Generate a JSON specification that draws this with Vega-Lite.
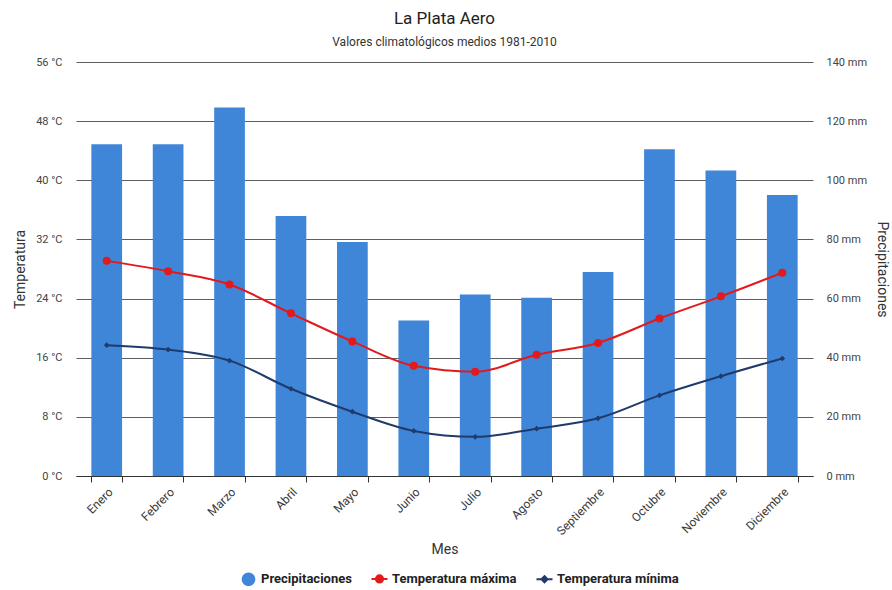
{
  "$schema": "https://vega.github.io/schema/vega-lite/v6.json",
  "width": 737,
  "height": 414,
  "padding": {"left": 13, "right": 2, "top": 10, "bottom": 2},
  "background": "white",
  "title": {
    "text": "La Plata Aero",
    "subtitle": "Valores climatológicos medios 1981-2010",
    "font": "Roboto",
    "fontSize": 17,
    "fontWeight": "normal",
    "color": "#222222",
    "subtitleFont": "Roboto",
    "subtitleFontSize": 12,
    "subtitleColor": "#333333",
    "subtitlePadding": 9,
    "anchor": "middle",
    "offset": 7
  },
  "data": {
    "values": [
      {"mes": "Enero", "serie": "Precipitaciones", "valor": 112.2},
      {"mes": "Febrero", "serie": "Precipitaciones", "valor": 112.2},
      {"mes": "Marzo", "serie": "Precipitaciones", "valor": 124.6},
      {"mes": "Abril", "serie": "Precipitaciones", "valor": 87.9},
      {"mes": "Mayo", "serie": "Precipitaciones", "valor": 79.1},
      {"mes": "Junio", "serie": "Precipitaciones", "valor": 52.6},
      {"mes": "Julio", "serie": "Precipitaciones", "valor": 61.4},
      {"mes": "Agosto", "serie": "Precipitaciones", "valor": 60.3},
      {"mes": "Septiembre", "serie": "Precipitaciones", "valor": 69.0},
      {"mes": "Octubre", "serie": "Precipitaciones", "valor": 110.5},
      {"mes": "Noviembre", "serie": "Precipitaciones", "valor": 103.3},
      {"mes": "Diciembre", "serie": "Precipitaciones", "valor": 95.0},
      {"mes": "Enero", "serie": "Temperatura máxima", "valor": 29.1},
      {"mes": "Febrero", "serie": "Temperatura máxima", "valor": 27.7},
      {"mes": "Marzo", "serie": "Temperatura máxima", "valor": 25.9},
      {"mes": "Abril", "serie": "Temperatura máxima", "valor": 22.0},
      {"mes": "Mayo", "serie": "Temperatura máxima", "valor": 18.2},
      {"mes": "Junio", "serie": "Temperatura máxima", "valor": 14.9},
      {"mes": "Julio", "serie": "Temperatura máxima", "valor": 14.1},
      {"mes": "Agosto", "serie": "Temperatura máxima", "valor": 16.4},
      {"mes": "Septiembre", "serie": "Temperatura máxima", "valor": 18.0},
      {"mes": "Octubre", "serie": "Temperatura máxima", "valor": 21.3},
      {"mes": "Noviembre", "serie": "Temperatura máxima", "valor": 24.3},
      {"mes": "Diciembre", "serie": "Temperatura máxima", "valor": 27.5},
      {"mes": "Enero", "serie": "Temperatura mínima", "valor": 17.7},
      {"mes": "Febrero", "serie": "Temperatura mínima", "valor": 17.1},
      {"mes": "Marzo", "serie": "Temperatura mínima", "valor": 15.6},
      {"mes": "Abril", "serie": "Temperatura mínima", "valor": 11.8},
      {"mes": "Mayo", "serie": "Temperatura mínima", "valor": 8.7},
      {"mes": "Junio", "serie": "Temperatura mínima", "valor": 6.1},
      {"mes": "Julio", "serie": "Temperatura mínima", "valor": 5.3},
      {"mes": "Agosto", "serie": "Temperatura mínima", "valor": 6.4},
      {"mes": "Septiembre", "serie": "Temperatura mínima", "valor": 7.8},
      {"mes": "Octubre", "serie": "Temperatura mínima", "valor": 10.9},
      {"mes": "Noviembre", "serie": "Temperatura mínima", "valor": 13.5},
      {"mes": "Diciembre", "serie": "Temperatura mínima", "valor": 15.9}
    ]
  },
  "encoding": {
    "x": {
      "field": "mes",
      "type": "nominal",
      "sort": null,
      "scale": {"paddingInner": 0.5, "paddingOuter": 0.25},
      "axis": {
        "title": "Mes",
        "titleFont": "Roboto",
        "titleFontSize": 14,
        "titleFontWeight": "normal",
        "titleColor": "#333333",
        "titlePadding": 6,
        "labelAngle": -45,
        "labelFont": "Roboto",
        "labelFontSize": 12,
        "labelColor": "#3a3a3a",
        "labelPadding": 4,
        "domainColor": "#333333",
        "tickColor": "#333333",
        "tickSize": 6,
        "tickBand": "extent",
        "grid": false
      }
    }
  },
  "layer": [
    {
      "transform": [{"filter": "datum.serie == 'Precipitaciones'"}],
      "mark": {"type": "bar"},
      "encoding": {
        "y": {
          "field": "valor",
          "type": "quantitative",
          "scale": {"domain": [0, 140], "nice": false},
          "axis": {
            "orient": "right",
            "title": "Precipitaciones",
            "titleAngle": 90,
            "titleFont": "Roboto",
            "titleFontSize": 14,
            "titleFontWeight": "normal",
            "titleColor": "#333333",
            "titlePadding": 8,
            "values": [0, 20, 40, 60, 80, 100, 120, 140],
            "labelExpr": "datum.value + ' mm'",
            "labelFont": "Roboto",
            "labelFontSize": 11,
            "labelColor": "#444444",
            "labelPadding": 13,
            "domain": false,
            "ticks": false,
            "grid": false
          }
        },
        "color": {
          "field": "serie",
          "type": "nominal",
          "scale": {
            "domain": ["Precipitaciones", "Temperatura máxima", "Temperatura mínima"],
            "range": ["#3f86d8", "#e3191c", "#1f3b6c"]
          },
          "legend": {
            "title": null,
            "orient": "none",
            "legendX": 166,
            "legendY": 510,
            "direction": "horizontal",
            "labelFont": "Roboto",
            "labelFontSize": 13,
            "labelFontWeight": "bold",
            "labelColor": "#222222",
            "symbolSize": 256,
            "columnPadding": 15,
            "labelOffset": 6,
            "encode": {
              "symbols": {
                "update": {
                  "shape": {"signal": "datum.label == 'Precipitaciones' ? 'M-0.85,0A0.85,0.85,0,1,1,0.85,0A0.85,0.85,0,1,1,-0.85,0Z' : datum.label == 'Temperatura máxima' ? 'M-1,0L1,0M-0.45,0A0.45,0.45,0,1,1,0.45,0A0.45,0.45,0,1,1,-0.45,0Z' : 'M-1,0L1,0M-0.38,0L0,-0.38L0.38,0L0,0.38Z'"},
                  "fill": {"signal": "scale('color', datum.value)"},
                  "stroke": {"signal": "scale('color', datum.value)"},
                  "strokeWidth": {"signal": "datum.label == 'Precipitaciones' ? 0 : 2"},
                  "opacity": {"value": 1},
                  "fillOpacity": {"value": 1},
                  "size": {"value": 256}
                }
              }
            }
          }
        }
      }
    },
    {
      "transform": [{"filter": "datum.serie != 'Precipitaciones'"}],
      "layer": [
        {
          "mark": {"type": "line", "interpolate": "monotone", "strokeWidth": 2},
          "encoding": {
            "y": {
              "field": "valor",
              "type": "quantitative",
              "scale": {"domain": [0, 56], "nice": false},
              "axis": {
                "orient": "left",
                "title": "Temperatura",
                "titleFont": "Roboto",
                "titleFontSize": 14,
                "titleFontWeight": "normal",
                "titleColor": "#333333",
                "titlePadding": 8,
                "values": [0, 8, 16, 24, 32, 40, 48, 56],
                "labelExpr": "datum.value + ' °C'",
                "labelFont": "Roboto",
                "labelFontSize": 11,
                "labelColor": "#444444",
                "labelPadding": 14,
                "domain": false,
                "ticks": false,
                "grid": true,
                "gridColor": "#5e5e5e",
                "gridWidth": 1
              }
            },
            "color": {"field": "serie", "type": "nominal"},
            "detail": {"field": "serie"}
          }
        },
        {
          "mark": {"type": "point", "filled": true, "opacity": 1},
          "encoding": {
            "y": {"field": "valor", "type": "quantitative"},
            "color": {"field": "serie", "type": "nominal"},
            "shape": {
              "field": "serie",
              "type": "nominal",
              "scale": {"domain": ["Temperatura máxima", "Temperatura mínima"], "range": ["circle", "diamond"]},
              "legend": null
            },
            "size": {
              "field": "serie",
              "type": "nominal",
              "scale": {"domain": ["Temperatura máxima", "Temperatura mínima"], "range": [64, 32]},
              "legend": null
            }
          }
        }
      ]
    }
  ],
  "resolve": {"scale": {"y": "independent"}},
  "config": {
    "view": {"stroke": null},
    "font": "Roboto"
  }
}
